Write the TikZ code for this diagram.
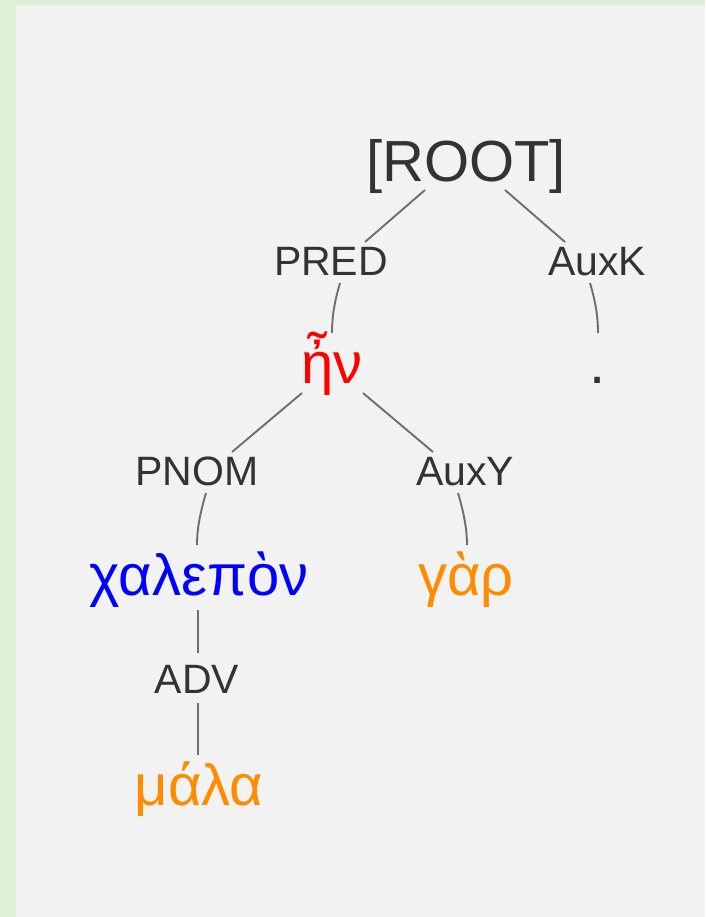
\documentclass[tikz,border=0pt]{standalone}
\usepackage{fontspec}
\setmainfont{Liberation Sans}
\usetikzlibrary{calc}
\definecolor{pagegreen}{HTML}{DFF0D8}
\definecolor{panelgray}{HTML}{F2F2F2}
\definecolor{labelgray}{HTML}{333333}
\definecolor{linkgray}{HTML}{6E6E6E}
\definecolor{wordorange}{HTML}{FF8C00}
\tikzset{
    x=1pt, y=-1pt, % one unit is one pixel of the screen, y runs downwards
    tok/.style = {anchor=base, inner sep=0pt, font=\fontsize{58}{60}\selectfont}, % a word of the sentence
    rel/.style = {anchor=base, inner sep=0pt, text=labelgray, font=\fontsize{41}{44}\selectfont}, % the relation label
    link/.style = {draw=linkgray, line width=1.9pt}
}
\begin{document}
\begin{tikzpicture}
    % background: green frame and grey panel
    \fill[pagegreen] (0,0) rectangle (705,917);
    \fill[panelgray] (16,5) rectangle (705,917);
    \useasboundingbox (0,0) rectangle (705,917);

    % words and labels, placed on their baselines
    \node[tok, text=labelgray] (root) at (466,182) {[ROOT]};
    \node[rel] (pred) at (331,275) {PRED};
    \node[rel] (auxk) at (597,275) {AuxK};
    \node[tok, text=red] (en) at (332,383) {ἦν};
    \node[tok, text=labelgray] (dot) at (598,383) {.};
    \node[rel] (pnom) at (197,485) {PNOM};
    \node[rel] (auxy) at (465,485) {AuxY};
    \node[tok, text=blue] (chalepon) at (199,595) {χαλεπὸν};
    \node[tok, text=wordorange] (gar) at (466,595) {γὰρ};
    \node[rel] (adv) at (197,693) {ADV};
    \node[tok, text=wordorange] (mala) at (199,805) {μάλα};

    % head to label
    \draw[link] ([shift={(-41,8)}]root.base) -- ([shift={(34,-33)}]pred.base);
    \draw[link] ([shift={(39,8)}]root.base) -- ([shift={(-32,-33)}]auxk.base);
    \draw[link] ([shift={(-30,10)}]en.base) -- ([shift={(35,-33)}]pnom.base);
    \draw[link] ([shift={(31,10)}]en.base) -- ([shift={(-32,-33)}]auxy.base);
    \draw[link] ([shift={(-1,15)}]chalepon.base) -- ([shift={(1,-40)}]adv.base);

    % label to dependent
    \draw[link] ([shift={(9,8)}]pred.base) .. controls ([shift={(4,25)}]pred.base) and ([shift={(0,-68)}]en.base) .. ([shift={(0,-50)}]en.base);
    \draw[link] ([shift={(-7,8)}]auxk.base) .. controls ([shift={(-2,25)}]auxk.base) and ([shift={(0,-68)}]dot.base) .. ([shift={(0,-50)}]dot.base);
    \draw[link] ([shift={(9,8)}]pnom.base) .. controls ([shift={(4,25)}]pnom.base) and ([shift={(-2,-68)}]chalepon.base) .. ([shift={(-2,-50)}]chalepon.base);
    \draw[link] ([shift={(-7,8)}]auxy.base) .. controls ([shift={(-2,25)}]auxy.base) and ([shift={(1,-68)}]gar.base) .. ([shift={(1,-50)}]gar.base);
    \draw[link] ([shift={(1,10)}]adv.base) -- ([shift={(-1,-50)}]mala.base);
\end{tikzpicture}
\end{document}
